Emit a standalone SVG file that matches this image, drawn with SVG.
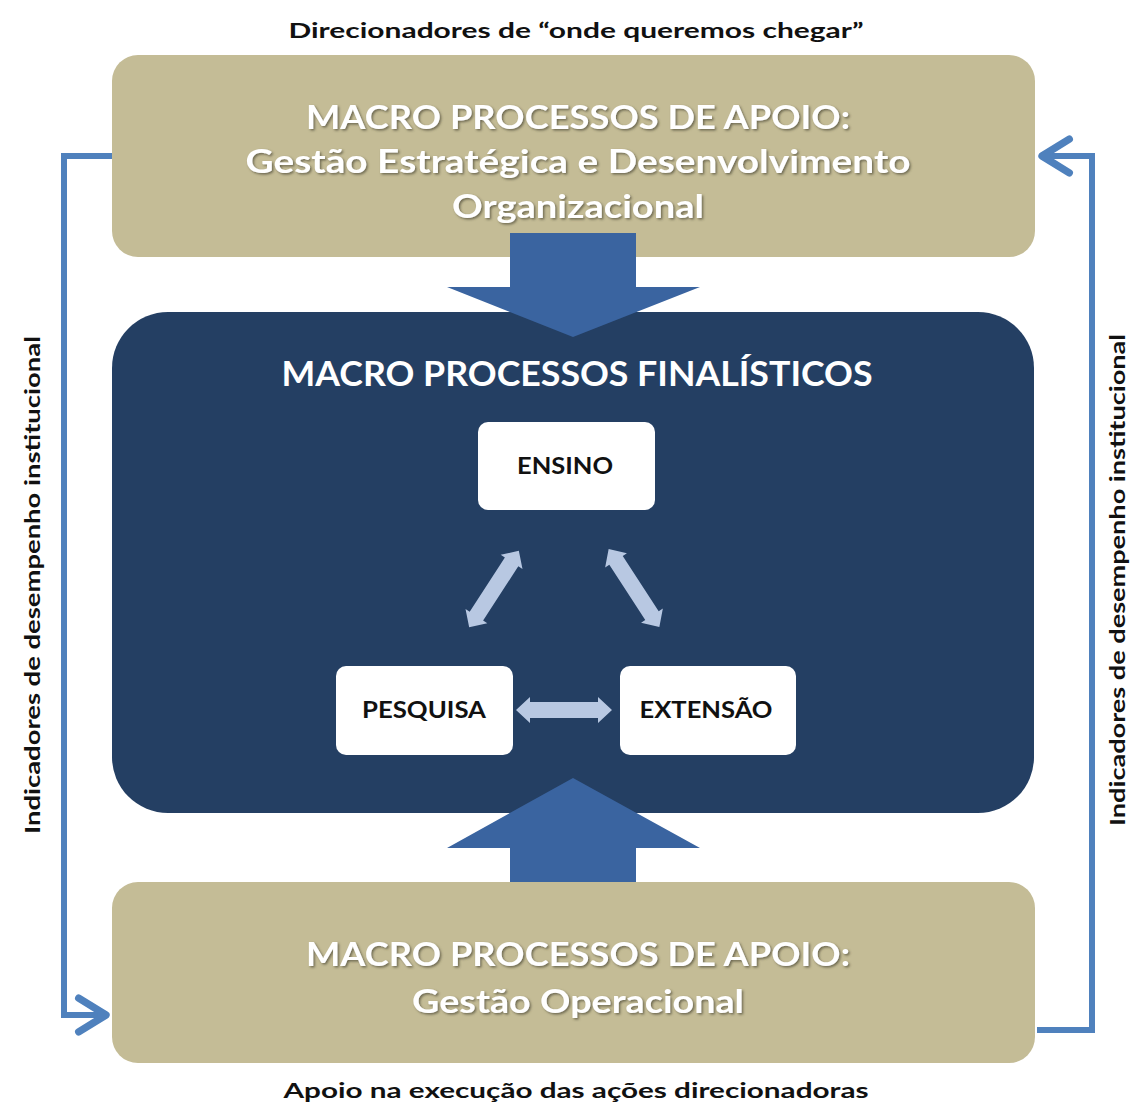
<svg xmlns="http://www.w3.org/2000/svg" width="1130" height="1112" viewBox="0 0 1130 1112">
<style>
.tan{fill:#C4BC96}
.navy{fill:#243F63}
.big{fill:#3A64A0}
.white{fill:#FFFFFF}
.ttl{font-family:Lato,"Open Sans","Liberation Sans",sans-serif;font-weight:bold;fill:#FFFFFF;text-anchor:middle}
.lbl{font-family:Lato,"Open Sans","Liberation Sans",sans-serif;font-weight:bold;fill:#111111;text-anchor:middle}
.conn{fill:none;stroke:#4F81BD;stroke-width:6}
.small{fill:#B8C8E2}
</style>
<defs>
<filter id="sh" x="-5%" y="-20%" width="110%" height="140%">
<feDropShadow dx="1.5" dy="1.5" stdDeviation="1.2" flood-color="#4a4630" flood-opacity="0.7"/>
</filter>
<marker id="chev" viewBox="0 0 20 20" refX="16" refY="10" markerWidth="7" markerHeight="7" markerUnits="strokeWidth" orient="auto">
<polyline points="3,2 16,10 3,18" fill="none" stroke="#4F81BD" stroke-width="3.5" stroke-linejoin="round" stroke-linecap="round"/>
</marker>
<g id="dblarrow">
<polygon points="-48,0 -34,-13 -34,-8 34,-8 34,-13 48,0 34,13 34,8 -34,8 -34,13"/>
</g>
</defs>
<rect width="1130" height="1112" fill="#FFFFFF"/>

<text class="lbl" x="576" y="38" font-size="20" textLength="575" lengthAdjust="spacingAndGlyphs">Direcionadores de “onde queremos chegar”</text>
<text class="lbl" x="576" y="1098" font-size="21" textLength="585" lengthAdjust="spacingAndGlyphs">Apoio na execução das ações direcionadoras</text>
<text class="lbl" transform="translate(40,585) rotate(-90)" font-size="20" textLength="498" lengthAdjust="spacingAndGlyphs">Indicadores de desempenho institucional</text>
<text class="lbl" transform="translate(1125,580) rotate(-90)" font-size="20" textLength="492" lengthAdjust="spacingAndGlyphs">Indicadores de desempenho institucional</text>

<g id="connectors">
<polyline class="conn" points="112,156 64,156 64,1015 106,1015" marker-end="url(#chev)"/>
<polyline class="conn" points="1037,1030 1092,1030 1092,156 1042,156" marker-end="url(#chev)"/>
</g>

<g id="node-top">
<rect class="tan" x="112" y="55" width="923" height="202" rx="26"/>
<g filter="url(#sh)">
<text class="ttl" x="578" y="129" font-size="33" textLength="544" lengthAdjust="spacingAndGlyphs">MACRO PROCESSOS DE APOIO:</text>
<text class="ttl" x="578" y="173" font-size="33" textLength="665" lengthAdjust="spacingAndGlyphs">Gestão Estratégica e Desenvolvimento</text>
<text class="ttl" x="578" y="218" font-size="33" textLength="252" lengthAdjust="spacingAndGlyphs">Organizacional</text>
</g>
</g>

<g id="node-finalisticos">
<rect class="navy" x="112" y="312" width="922" height="501" rx="56"/>
<text class="ttl" x="577" y="386" font-size="34" textLength="591" lengthAdjust="spacingAndGlyphs">MACRO PROCESSOS FINALÍSTICOS</text>
</g>

<g id="arrow-down">
<polygon class="big" points="510,233 636,233 636,287 700,287 573,337 447,287 510,287"/>
</g>

<g id="node-bottom">
<rect class="tan" x="112" y="882" width="923" height="181" rx="26"/>
<g filter="url(#sh)">
<text class="ttl" x="578" y="966" font-size="33" textLength="544" lengthAdjust="spacingAndGlyphs">MACRO PROCESSOS DE APOIO:</text>
<text class="ttl" x="578" y="1013" font-size="33" textLength="332" lengthAdjust="spacingAndGlyphs">Gestão Operacional</text>
</g>
</g>

<g id="arrow-up">
<polygon class="big" points="510,882 636,882 636,848 700,848 573,778 447,848 510,848"/>
</g>

<g id="node-ensino">
<rect class="white" x="478" y="422" width="177" height="88" rx="10"/>
<text class="lbl" x="565" y="474" font-size="22" textLength="96" lengthAdjust="spacingAndGlyphs">ENSINO</text>
</g>
<g id="node-pesquisa">
<rect class="white" x="336" y="666" width="177" height="89" rx="10"/>
<text class="lbl" x="424" y="718" font-size="22" textLength="124" lengthAdjust="spacingAndGlyphs">PESQUISA</text>
</g>
<g id="node-extensao">
<rect class="white" x="620" y="666" width="176" height="89" rx="10"/>
<text class="lbl" x="706" y="718" font-size="22" textLength="133" lengthAdjust="spacingAndGlyphs">EXTENSÃO</text>
</g>

<g id="small-arrows" class="small">
<use href="#dblarrow" transform="translate(494,589) rotate(-57) scale(0.95,1)"/>
<use href="#dblarrow" transform="translate(634,588) rotate(57) scale(0.97,1)"/>
<use href="#dblarrow" transform="translate(564,710)"/>
</g>
</svg>
